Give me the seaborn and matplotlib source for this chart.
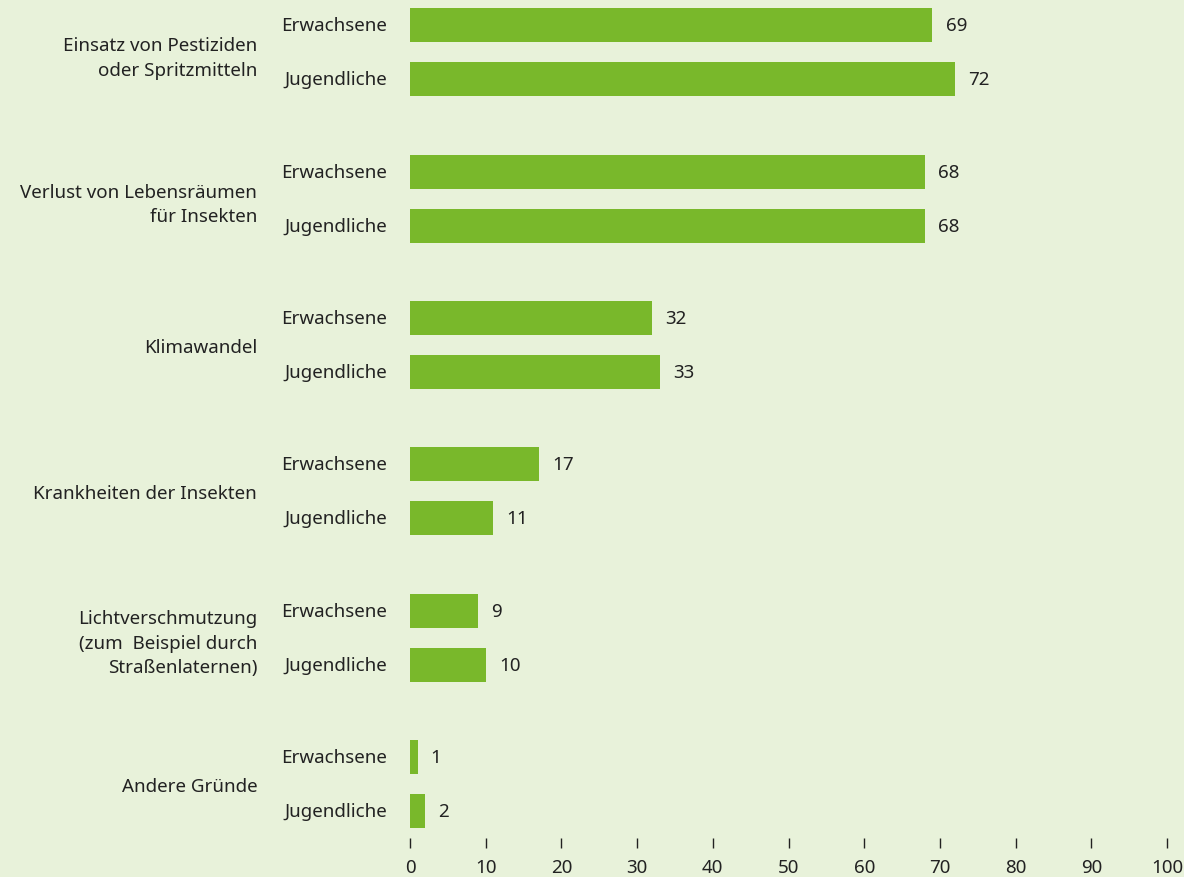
import pandas as pd
import seaborn as sns
import matplotlib.pyplot as plt

# Data
gruende = [
    "Einsatz von Pestiziden\noder Spritzmitteln",
    "Verlust von Lebensräumen\nfür Insekten",
    "Klimawandel",
    "Krankheiten der Insekten",
    "Lichtverschmutzung\n(zum  Beispiel durch\nStraßenlaternen)",
    "Andere Gründe",
]
gruppen = ["Erwachsene", "Jugendliche"]
erwachsene = [69, 68, 32, 17, 9, 1]
jugendliche = [72, 68, 33, 11, 10, 2]
x_ticks = [0, 10, 20, 30, 40, 50, 60, 70, 80, 90, 100]

df = pd.DataFrame({
    "grund": gruende * 2,
    "gruppe": [gruppen[0]] * len(gruende) + [gruppen[1]] * len(gruende),
    "wert": erwachsene + jugendliche,
})

bg = "#e8f2da"
bar_color = "#79b82b"
text_color = "#222222"

sns.set_theme(style="white")
plt.rcParams["font.family"] = ["Noto Sans", "DejaVu Sans"]
plt.rcParams["text.color"] = text_color

fig = plt.figure(figsize=(11.84, 8.78), dpi=100, facecolor=bg)
ax = fig.add_axes([410 / 1184, 1 - 839 / 878, 757 / 1184, 839 / 878])
ax.set_facecolor(bg)

sns.barplot(
    data=df, y="grund", x="wert", hue="gruppe", order=gruende,
    hue_order=gruppen, palette=[bar_color, bar_color], orient="h",
    width=0.738, gap=0.37, dodge=True, legend=False, ax=ax,
    saturation=1, edgecolor="none",
)

for cont in ax.containers:
    ax.bar_label(cont, padding=9.5, fontsize=13.5, color=text_color)

# group labels next to each bar
off = 0.738 / 4
for i in range(len(gruende)):
    ax.text(-3.05, i - off, gruppen[0], ha="right", va="center",
            fontsize=13.5, color=text_color, clip_on=False)
    ax.text(-3.05, i + off, gruppen[1], ha="right", va="center",
            fontsize=13.5, color=text_color, clip_on=False)

ax.set_xlim(0, 100)
ax.set_ylim(5.37, -0.365)
ax.set_xticks(x_ticks)
ax.set_xlabel("")
ax.set_ylabel("")
for s in ax.spines.values():
    s.set_visible(False)

ax.tick_params(axis="x", direction="out", length=7.2, width=1, color=text_color,
               labelsize=13.5, labelcolor=text_color, pad=7, bottom=True)
ax.tick_params(axis="y", length=0, labelsize=13.5, labelcolor=text_color, pad=110)
for lab in ax.get_yticklabels():
    lab.set_horizontalalignment("right")
    lab.set_linespacing(1.45)

fig.savefig("out.png", dpi=100, facecolor=bg)
